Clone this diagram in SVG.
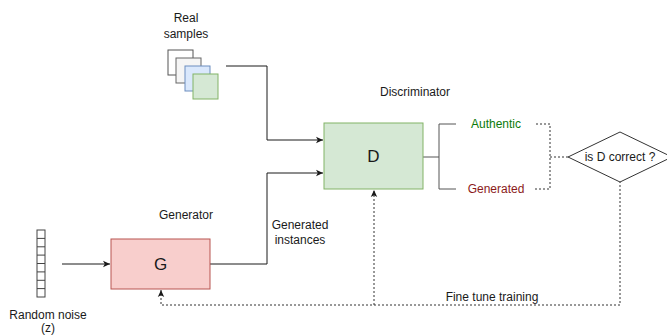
<svg xmlns="http://www.w3.org/2000/svg" width="667" height="335" viewBox="0 0 667 335">
  <style>
    .lbl { font-family: "Liberation Sans", Arial, Helvetica, sans-serif; font-size: 12px; fill: #1a1a1a; text-anchor: middle; dominant-baseline: central; }
    .big { font-size: 17px; }
    .edge { fill: none; stroke: #1a1a1a; stroke-width: 1; }
    .dot { fill: none; stroke: #333; stroke-width: 1; stroke-dasharray: 2 2; }
    .brk { fill: none; stroke: #555; stroke-width: 1; }
  </style>
  <defs>
    <marker id="arrow" markerWidth="8" markerHeight="8" refX="7" refY="4" orient="auto" markerUnits="userSpaceOnUse">
      <path d="M0,0.8 L7,4 L0,7.2 L1.8,4 Z" fill="#1a1a1a"/>
    </marker>
  </defs>

  <rect width="667" height="335" fill="#ffffff"/>

  <!-- connectors -->
  <g id="connectors">
    <path class="edge" d="M226,66 H267 V140 H323" marker-end="url(#arrow)"/>
    <path class="edge" d="M210,264 H267 V173 H323" marker-end="url(#arrow)"/>
    <path class="edge" d="M62,264 H110" marker-end="url(#arrow)"/>
    <path class="brk" d="M423,157 H439 M456,124 H439 V189 H456"/>
    <path class="dot" d="M536,124 H550 V189 H533 M550,157 H568"/>
    <path class="dot" d="M620,181 V305 H161 V290" marker-end="url(#arrow)"/>
    <path class="dot" d="M374,305 V190" marker-end="url(#arrow)"/>
  </g>

  <!-- real samples stack -->
  <g id="real-samples">
    <rect x="168" y="50" width="25" height="25" fill="#ffffff" stroke="#555"/>
    <rect x="176" y="58" width="25" height="25" fill="#f5f5f5" stroke="#666"/>
    <rect x="185" y="66" width="25" height="25" fill="#dae8fc" stroke="#6c8ebf"/>
    <rect x="193" y="74" width="25" height="25" fill="#d5e8d4" stroke="#82b366"/>
    <text class="lbl" x="186" y="18">Real</text>
    <text class="lbl" x="186" y="34">samples</text>
  </g>

  <!-- discriminator -->
  <g id="discriminator">
    <rect x="324" y="123" width="99" height="66" fill="#d5e8d4" stroke="#82b366"/>
    <text class="lbl big" x="373.5" y="156">D</text>
    <text class="lbl" x="415" y="92">Discriminator</text>
  </g>

  <!-- outputs -->
  <g id="authentic">
    <text class="lbl" x="496" y="124" style="fill:#0a7a0a">Authentic</text>
  </g>
  <g id="generated">
    <text class="lbl" x="496" y="189" style="fill:#8b1a1a">Generated</text>
  </g>

  <!-- decision -->
  <g id="decision">
    <path d="M568,157 L620,132 L672,157 L620,182 Z" fill="#ffffff" stroke="#333"/>
    <text class="lbl" x="620" y="157">is D correct ?</text>
  </g>

  <!-- generator -->
  <g id="generator">
    <rect x="111" y="239" width="99" height="50" fill="#f8cecc" stroke="#b85450"/>
    <text class="lbl big" x="160.5" y="264">G</text>
    <text class="lbl" x="186" y="215">Generator</text>
  </g>

  <g id="generated-instances">
    <text class="lbl" x="300" y="225">Generated</text>
    <text class="lbl" x="300" y="240">instances</text>
  </g>

  <!-- noise vector -->
  <g id="noise">
    <rect x="37" y="230" width="8" height="67" fill="#ffffff" stroke="#444"/>
    <path d="M37,238.4 H45 M37,246.8 H45 M37,255.1 H45 M37,263.5 H45 M37,271.9 H45 M37,280.3 H45 M37,288.6 H45" stroke="#444" fill="none"/>
    <text class="lbl" x="48" y="315">Random noise</text>
    <text class="lbl" x="48" y="328">(z)</text>
  </g>

  <g id="fine-tune">
    <text class="lbl" x="492" y="297">Fine tune training</text>
  </g>
</svg>
